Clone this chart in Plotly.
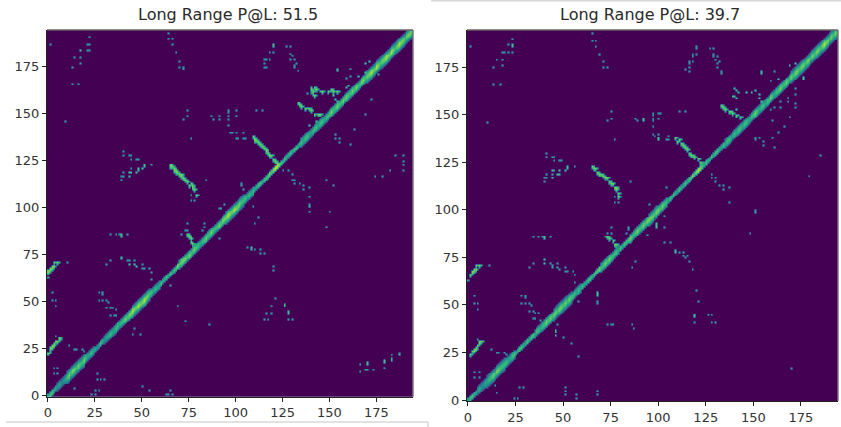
import numpy as np
import plotly.graph_objects as go

N = 195
tick_values = [0, 25, 50, 75, 100, 125, 150, 175]
titles = ["Long Range P@L: 51.5", "Long Range P@L: 39.7"]

left_dots = [(1,187),(22,191),(21,187),(22,187),(21,184),(22,184),(14,180),(17,180),(17,177),(13,175),(13,166),(16,166),(9,146),
 (64,193),(64,190),(66,190),(66,187),(68,183),(70,178),(70,175),(72,175),(72,174),(74,152),(74,149),(72,147),(76,137),
 (87,149),(88,147),(91,149),(91,147),(96,152),(96,151),(100,152),(96,149),(96,147),(100,149),(96,144),(97,140),(98,140),(100,140),
 (100,137),(101,137),(104,140),(104,137),(105,137),(111,152),(114,152),
 (76,107),(76,104),(78,104),(84,115),(55,123),(40,130),(40,128),(43,128),(44,128),(44,126),(47,126),(48,126),
 (44,121),(40,119),(39,117),(40,117),(39,115),(10,71),(0,63),(31,70),(33,72),(42,72),(43,72),(46,72),(46,70),(50,70),(50,68),(51,68),(54,68),(55,66),(55,62),
 (33,86),(36,86),(38,86),(42,86),(74,92),(73,88),(74,88),(71,86),(83,92),(83,90),(82,88),(91,84),(91,100),(92,100),
 (65,59),(69,48),(73,40),(86,38),(27,55),(29,55),(29,54),(27,51),(29,51),(31,51),(32,50),(31,47),(33,47),(34,47),(36,46),(33,43),(35,43),(36,43),(37,39),
 (46,36),(45,33),(49,33),(2,55),(2,51),(4,51),(4,48),(4,32),(11,27),(14,25),(15,25),(18,25),(19,24),(3,15),(5,15),(3,12),(5,12),
 (14,4),(26,12),(26,9),(28,9),(30,9),(25,3),(27,3),(23,1),(25,1),(50,5),(54,3),(63,1),(64,1),(65,3),(66,1),
 (120,183),(118,183),(116,179),(118,179),(115,179),(115,177),(115,175),(116,175),(127,186),(129,186),(129,182),(130,181),(129,179),(131,179),(132,177),(131,176),(131,175),(133,173),
 (161,174),(161,170),(159,169),(138,161),(140,161),(176,171),(172,158),(169,150),(163,142),(153,139),(153,137),(155,137),(155,135),(161,134),
 (185,128),(189,128),(189,125),(189,123),(189,120),(182,120),(174,117),(178,117),(125,120),(128,120),(130,118),(130,115),(131,115),(131,113),(134,113),(136,112),(136,110),(139,111),(139,106),(139,102),
 (148,115),(152,112),(112,95),(110,92),(103,113),(103,112),(104,110),(94,102),(139,98),(150,98),(148,90),(109,101),
 (106,79),(110,78),(113,78),(113,76),(115,76),(120,69),(120,67),(121,52),(119,48),(116,44),(119,44),(115,41),(117,41),(128,41),(130,41),
 (166,17),(166,13),(169,14),(170,14),(173,14),(179,15),(183,22),(187,23)]
left_mid = [(17,184),(120,187),(120,186),(154,173),(154,174),(108,79),(108,78),(126,49),(126,48),(128,45),(128,44),(170,18),(170,17),(179,19),(179,18),(183,20),(183,19),(187,22),
 (139,101),(43,119),(43,117),(44,119),(51,123),(51,122),(50,121),(48,121),(47,119),(48,120),(39,74),(39,73),(43,70),(46,70),(47,69),(39,86),(39,85),
 (145,162),(150,162),(152,160),(153,158),(154,157),(140,164),(138,153),(139,144),(143,146),(169,177),(171,178),(165,170),(169,172),(159,164),(160,165),(142,159),(141,160),(141,161)]
left_bright = [(65,123),(66,122),(67,121),(68,120),(68,119),(70,118),(71,117),(72,116),(74,114),(76,113),(77,112),(78,110),(79,107),(65,122),(67,120),(69,119),(71,118),(73,115),(75,112),(77,111),
 (0,67),(1,68),(2,68),(3,69),(3,71),(5,71),(1,67),(2,69),(0,66),(0,23),(1,26),(2,27),(3,28),(4,29),(6,30),(6,31),(1,25),(2,26),(3,27),(5,29),
 (74,86),(75,85),(76,84),(76,82),(77,81),
 (109,138),(110,137),(111,136),(112,135),(114,133),(115,132),(116,131),(117,129),(119,128),(120,126),(121,125),(122,124),(110,136),(113,134),(116,130),(118,128),
 (133,156),(134,155),(135,154),(137,153),(139,153),(140,152),(142,150),(144,150),(145,150),
 (140,163),(142,164),(143,163),(141,162),(142,160),(146,162),(149,162),(151,163),(152,162),(154,162)]

right_dots = [(1,186),(23,190),(21,187),(18,183),(19,183),(21,183),(23,183),(15,179),(18,179),(18,176),(13,175),(13,166),(17,166),(10,146),
 (65,193),(65,189),(67,189),(67,186),(69,182),(71,178),(71,175),(73,175),(75,152),(75,148),(73,147),(77,137),(88,148),(89,147),
 (41,130),(41,128),(44,128),(45,128),(45,126),(48,126),(49,126),(45,121),(44,119),(41,119),(41,117),(40,117),(40,115),(56,123),(85,115),(77,107),(77,104),(79,104),
 (120,186),(120,185),(118,182),(120,182),(118,181),(116,178),(118,178),(116,177),(114,174),(116,175),(116,173),(127,185),(129,185),(129,182),(129,181),(131,181),(130,179),(131,177),(132,178),(131,175),(133,173),(133,172),
 (161,173),(159,168),(172,164),(172,161),(168,159),(168,157),(164,157),(172,156),(172,154),(164,154),(161,154),(159,153),(169,149),(160,147),(166,144),(163,141),(160,138),(151,138),(151,137),(153,138),(155,136),(155,134),(161,133),(185,129),(179,118),
 (111,152),(114,152),(97,151),(97,150),(100,151),(101,151),(97,148),(97,147),(100,148),(97,144),(97,140),(98,139),(100,140),(104,137),(105,137),(105,139),
 (104,112),(128,119),(128,117),(130,117),(130,115),(132,113),(134,113),(134,111),(137,112),(137,104),(151,99),(95,103),
 (11,71),(0,63),(32,70),(34,72),(43,72),(44,71),(44,70),(47,72),(47,70),(48,69),(51,70),(51,68),(52,68),(55,68),(56,66),(56,62),
 (34,86),(37,86),(39,86),(43,86),(75,91),(73,88),(75,88),(72,86),(84,91),(84,90),(83,88),(86,70),(88,73),(58,52),
 (68,52),(68,51),(28,55),(30,55),(30,54),(28,51),(30,51),(32,51),(33,50),(32,47),(34,47),(35,46),(37,46),(34,43),(35,43),(38,42),
 (3,55),(3,51),(5,51),(5,48),(47,40),(50,33),(54,30),(58,23),(73,40),(75,40),(76,40),(86,40),(87,38),(5,32),(12,27),(15,25),(16,25),(19,25),(20,24),
 (3,15),(6,15),(3,12),(6,12),(14,8),(15,4),(27,7),(29,7),(24,1),(26,1),(51,7),(51,5),(51,3),(57,3),(57,1),(68,5),(68,3),
 (103,97),(103,91),(94,87),(103,83),(106,83),(111,78),(113,78),(113,76),(114,75),(115,76),(116,73),(118,69),(120,58),(121,52),(126,45),(128,45),(119,41),(128,41),(130,41),(170,17),(151,100),(148,88)]
right_mid = [(23,187),(23,186),(154,173),(154,172),(176,170),(176,169),(40,74),(40,72),(46,37),(46,36),(46,34),(68,57),(68,56),(68,55),(99,93),(99,92),(99,91),(109,79),(109,78),(119,45),(119,44),(92,148),(92,147),
 (100,138),(100,137),(52,123),(52,122),(51,121),(48,121),(48,119),(47,119),(44,121),(44,117),(40,86),(40,85),
 (139,160),(140,160),(140,164),(141,163),(142,162),(141,159),(146,162),(149,162),(151,163),(153,161),(153,159),(154,157),(169,176),(172,177),(167,169),(163,169),(141,153)]
right_bright = [(65,123),(67,122),(68,120),(70,119),(71,118),(73,117),(74,115),(76,114),(78,112),(78,111),(79,109),(79,107),(66,122),(69,119),(72,117),(75,114),(77,112),
 (1,66),(2,67),(3,68),(4,69),(4,71),(6,71),(2,68),(3,69),(1,24),(2,26),(3,27),(4,28),(5,29),(6,31),(7,31),(3,26),(4,27),(6,30),
 (73,86),(74,85),(76,84),(77,82),(78,82),
 (109,138),(111,137),(112,135),(114,133),(115,132),(116,130),(118,129),(119,128),(121,127),(122,125),(110,136),(113,134),(117,129),
 (133,155),(135,153),(137,152),(139,151),(141,150),(143,149),(134,154),(138,152)]

left_band_width = [1,2,3,3,2,1,2,2,2,3,3,2,1,1,2,2,2,2,2,3,3,2,1,1,1,1,1,2,2,2,2,2,2,2,3,3,3,3,3]
right_band_width = [1,2,3,3,2,1,1,2,2,3,3,2,1,1,2,2,1,2,2,3,2,1,1,1,1,1,1,2,2,2,2,2,2,2,3,3,3,3,3]

left_band_level = [6,7,7,6,6,5,6,5,5,6,7,8,7,8,8,7,8,7,7,8,7,6,6,7,6,6,5,6,7,6,5,6,6,7,6,6,7,7,6,7,
 7,8,7,8,8,9,8,8,9,8,8,9,8,8,7,7,6,7,6,6,7,6,6,7,6,7,6,7,7,8,7,8,8,8,7,8,7,7,8,7,7,6,7,7,8,7,7,8,7,7,
 7,8,7,8,8,8,9,8,8,9,8,8,8,7,7,7,6,7,6,7,6,6,7,7,6,7,7,7,8,7,8,9,9,8,7,6,7,6,6,7,6,7,7,6,6,7,6,7,7,6,
 6,7,7,7,6,7,7,6,7,7,7,8,7,7,8,7,7,8,7,8,7,7,8,7,8,7,7,8,8,7,8,8,9,8,8,9,8,7,8,8,9,8,8,9,8,7,8,9,8,8,7,8,8,8,7]
right_band_level = [6,7,7,6,6,5,6,5,5,6,6,7,7,8,7,8,8,7,7,7,7,6,6,7,7,6,6,7,7,6,6,7,6,7,7,6,7,7,6,7,
 7,8,7,8,7,8,8,7,8,8,7,8,7,8,7,7,7,6,7,6,7,6,6,7,7,6,7,7,7,8,7,7,8,7,8,7,7,7,7,6,7,6,7,7,7,8,7,7,7,8,
 7,7,8,7,8,8,8,8,7,8,8,7,8,7,7,6,7,6,7,6,6,7,6,6,7,6,7,7,8,7,8,9,8,7,6,7,6,6,7,6,7,7,6,6,7,6,7,7,6,6,
 7,6,7,7,6,7,7,6,6,7,7,8,7,6,7,7,6,7,7,8,7,6,7,7,8,7,7,8,7,7,8,7,8,8,7,8,8,7,8,8,7,8,7,8,8,7,8,9,8,8,7,8,7,8,7]
band_falloff = [1.0, 0.9, 0.7, 0.5, 0.4]


def build(width, level, dots, mid, bright):
    z = np.zeros((N, N))
    for i in range(N):
        w = width[i // 5]
        lv = level[i] / 10
        for d in range(-w, w + 1):
            j = i + d
            if 0 <= j < N:
                z[j, i] = max(z[j, i], lv * band_falloff[abs(d)])
    for pts, v in ((dots, 0.55), (mid, 0.7), (bright, 0.78)):
        for x, y in pts:
            z[y, x] = max(z[y, x], v)
    for x, y in bright:
        for nx, ny in ((x + 1, y), (x, y - 1)):
            if nx < N and ny >= 0:
                z[ny, nx] = max(z[ny, nx], 0.62)
    return z


W, H = 841, 427
panels = [dict(l=47, r=413, t=30, b=396.7, c=228), dict(l=467, r=838, t=30, b=401, c=650)]
data = [(left_band_width, left_band_level, left_dots, left_mid, left_bright),
        (right_band_width, right_band_level, right_dots, right_mid, right_bright)]

fig = go.Figure()
shapes, annotations = [], []
for k, (p, d) in enumerate(zip(panels, data)):
    sfx = "" if k == 0 else "2"
    fig.add_trace(go.Heatmap(z=build(*d), x=np.arange(N), y=np.arange(N), colorscale="Viridis", zmin=0, zmax=1,
                             zsmooth="best", showscale=False, hoverinfo="skip", xaxis="x" + sfx, yaxis="y" + sfx))
    ax = dict(range=[-0.5, N - 0.5], tickvals=tick_values, ticks="outside", ticklen=4, tickwidth=1, tickcolor="#222",
              showgrid=False, zeroline=False, showline=True, linecolor="#222", linewidth=1, automargin=False,
              tickfont=dict(family="DejaVu Sans", size=13, color="#333"))
    fig.update_layout(**{
        "xaxis" + sfx: dict(ax, domain=[p["l"] / W, p["r"] / W], anchor="y" + sfx),
        "yaxis" + sfx: dict(ax, domain=[1 - p["b"] / H, 1 - p["t"] / H], anchor="x" + sfx),
    })
    shapes.append(dict(type="line", xref="paper", yref="paper", x0=p["l"] / W, x1=p["r"] / W, y0=1 - p["t"] / H, y1=1 - p["t"] / H,
                       line=dict(color="#666", width=1.5)))
    shapes.append(dict(type="line", xref="paper", yref="paper", x0=p["r"] / W, x1=p["r"] / W, y0=1 - p["b"] / H, y1=1 - p["t"] / H,
                       line=dict(color="#777", width=1.5)))
    annotations.append(dict(text=titles[k], xref="paper", yref="paper", x=p["c"] / W, y=1 - 14 / H,
                            xanchor="center", yanchor="middle",
                            showarrow=False, font=dict(family="DejaVu Sans", size=16, color="#2a2a2a")))

frame = dict(type="line", xref="paper", yref="paper", line=dict(color="#d8d8d8", width=1.5))
shapes += [dict(frame, x0=431 / W, x1=1, y0=1 - 0.7 / H, y1=1 - 0.7 / H),
           dict(frame, x0=6 / W, x1=428 / W, y0=1 - 422 / H, y1=1 - 422 / H),
           dict(frame, x0=428 / W, x1=428 / W, y0=1 - 422 / H, y1=0)]

fig.update_layout(width=W, height=H, margin=dict(l=0, r=0, t=0, b=0, autoexpand=False), paper_bgcolor="white", plot_bgcolor="white",
                  shapes=shapes, annotations=annotations, showlegend=False)
fig.write_html("out.html", config={"displayModeBar": False},
               post_script="document.body.style.margin='0';document.body.style.overflow='hidden';")
